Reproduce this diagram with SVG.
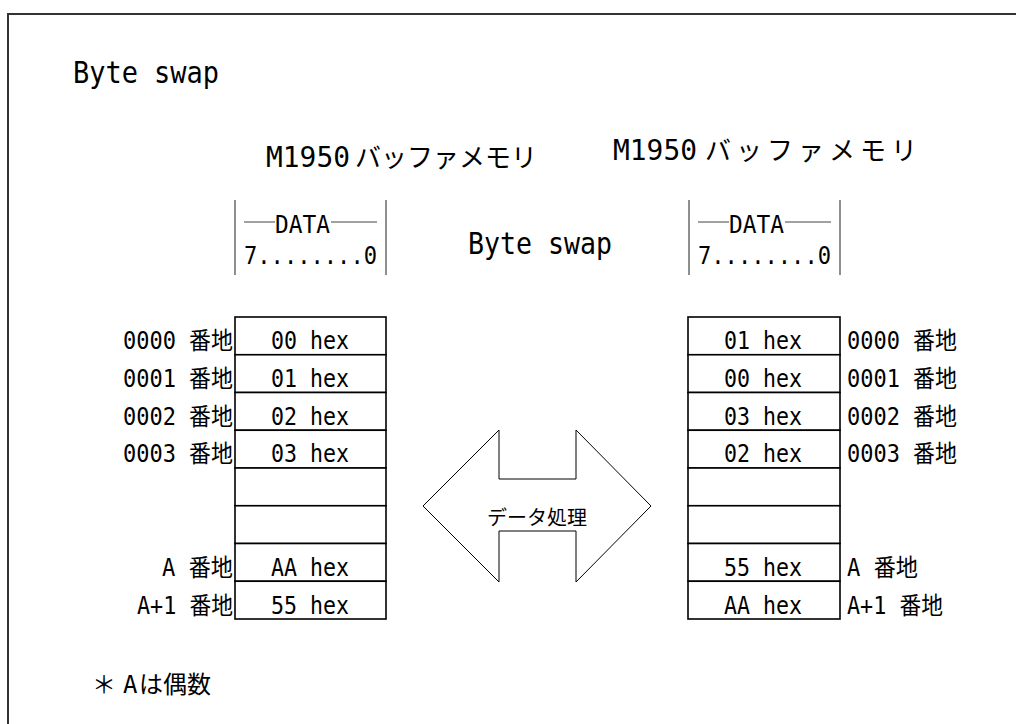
<svg xmlns="http://www.w3.org/2000/svg" width="1016" height="724" viewBox="0 0 1016 724">
<style>
.t{font-family:"DejaVu Sans Mono","Noto Sans CJK JP",monospace;fill:#000}
.cell{fill:#fff;stroke:#000;stroke-width:1.6}
.bar{stroke:#444;stroke-width:1.2;fill:none}
.c{text-anchor:middle}
.e{text-anchor:end}
.v{font-size:24px}
</style>
<rect width="1016" height="724" fill="#fff"/>
<path d="M8 724 V14 H1016" fill="none" stroke="#333" stroke-width="2"/>
<text class="t" x="73" y="83" font-size="30" textLength="146" lengthAdjust="spacingAndGlyphs">Byte swap</text>
<text class="t" x="266" y="167" font-size="28" textLength="84" lengthAdjust="spacingAndGlyphs">M1950</text>
<text class="t" x="355" y="167" font-size="26">バッファメモリ</text>
<text class="t" x="613" y="160" font-size="28" textLength="84" lengthAdjust="spacingAndGlyphs">M1950</text>
<text class="t" x="705" y="160" font-size="26" letter-spacing="5">バッファメモリ</text>
<text class="t" x="468" y="254" font-size="30" textLength="144" lengthAdjust="spacingAndGlyphs">Byte swap</text>
<g id="hdr-left">
<path class="bar" d="M235 200 V275 M386 200 V275 M244 222 H275 M331 222 H377"/>
<text class="t v" x="275" y="233" textLength="55" lengthAdjust="spacingAndGlyphs">DATA</text>
<text class="t v" x="244" y="264" textLength="133" lengthAdjust="spacingAndGlyphs">7........0</text>
</g>
<g id="hdr-right">
<path class="bar" d="M689 200 V275 M840 200 V275 M698 222 H729 M785 222 H831"/>
<text class="t v" x="729" y="233" textLength="55" lengthAdjust="spacingAndGlyphs">DATA</text>
<text class="t v" x="698" y="264" textLength="133" lengthAdjust="spacingAndGlyphs">7........0</text>
</g>
<g id="mem-left">
<rect class="cell" x="235" y="317" width="151" height="37.75"/>
<rect class="cell" x="235" y="354.75" width="151" height="37.75"/>
<rect class="cell" x="235" y="392.5" width="151" height="37.75"/>
<rect class="cell" x="235" y="430.25" width="151" height="37.75"/>
<rect class="cell" x="235" y="468" width="151" height="37.75"/>
<rect class="cell" x="235" y="505.75" width="151" height="37.75"/>
<rect class="cell" x="235" y="543.5" width="151" height="37.75"/>
<rect class="cell" x="235" y="581.25" width="151" height="37.75"/>
<text class="t v c" x="310" y="349" textLength="78" lengthAdjust="spacingAndGlyphs">00 hex</text>
<text class="t v c" x="310" y="387" textLength="78" lengthAdjust="spacingAndGlyphs">01 hex</text>
<text class="t v c" x="310" y="425" textLength="78" lengthAdjust="spacingAndGlyphs">02 hex</text>
<text class="t v c" x="310" y="462" textLength="78" lengthAdjust="spacingAndGlyphs">03 hex</text>
<text class="t v c" x="310" y="576" textLength="78" lengthAdjust="spacingAndGlyphs">AA hex</text>
<text class="t v c" x="310" y="614" textLength="78" lengthAdjust="spacingAndGlyphs">55 hex</text>
<text class="t v e" x="233" y="349" textLength="110" lengthAdjust="spacingAndGlyphs">0000 番地</text>
<text class="t v e" x="233" y="387" textLength="110" lengthAdjust="spacingAndGlyphs">0001 番地</text>
<text class="t v e" x="233" y="425" textLength="110" lengthAdjust="spacingAndGlyphs">0002 番地</text>
<text class="t v e" x="233" y="462" textLength="110" lengthAdjust="spacingAndGlyphs">0003 番地</text>
<text class="t v e" x="233" y="576" textLength="71" lengthAdjust="spacingAndGlyphs">A 番地</text>
<text class="t v e" x="233" y="614" textLength="96" lengthAdjust="spacingAndGlyphs">A+1 番地</text>
</g>
<g id="mem-right">
<rect class="cell" x="688" y="317" width="152" height="37.75"/>
<rect class="cell" x="688" y="354.75" width="152" height="37.75"/>
<rect class="cell" x="688" y="392.5" width="152" height="37.75"/>
<rect class="cell" x="688" y="430.25" width="152" height="37.75"/>
<rect class="cell" x="688" y="468" width="152" height="37.75"/>
<rect class="cell" x="688" y="505.75" width="152" height="37.75"/>
<rect class="cell" x="688" y="543.5" width="152" height="37.75"/>
<rect class="cell" x="688" y="581.25" width="152" height="37.75"/>
<text class="t v c" x="763" y="349" textLength="78" lengthAdjust="spacingAndGlyphs">01 hex</text>
<text class="t v c" x="763" y="387" textLength="78" lengthAdjust="spacingAndGlyphs">00 hex</text>
<text class="t v c" x="763" y="425" textLength="78" lengthAdjust="spacingAndGlyphs">03 hex</text>
<text class="t v c" x="763" y="462" textLength="78" lengthAdjust="spacingAndGlyphs">02 hex</text>
<text class="t v c" x="763" y="576" textLength="78" lengthAdjust="spacingAndGlyphs">55 hex</text>
<text class="t v c" x="763" y="614" textLength="78" lengthAdjust="spacingAndGlyphs">AA hex</text>
<text class="t v" x="847" y="349" textLength="110" lengthAdjust="spacingAndGlyphs">0000 番地</text>
<text class="t v" x="847" y="387" textLength="110" lengthAdjust="spacingAndGlyphs">0001 番地</text>
<text class="t v" x="847" y="425" textLength="110" lengthAdjust="spacingAndGlyphs">0002 番地</text>
<text class="t v" x="847" y="462" textLength="110" lengthAdjust="spacingAndGlyphs">0003 番地</text>
<text class="t v" x="847" y="576" textLength="71" lengthAdjust="spacingAndGlyphs">A 番地</text>
<text class="t v" x="847" y="614" textLength="96" lengthAdjust="spacingAndGlyphs">A+1 番地</text>
</g>
<g id="connectors">
<g id="swap-arrow">
<path d="M423 506 L499 430 V479 H576 V430 L651 506 L576 582 V531 H499 V582 Z" fill="#fff" stroke="#000" stroke-width="1"/>
<text class="t c" x="537" y="525" font-size="20">データ処理</text>
</g>
</g>
<text class="t" y="693" font-size="24"><tspan x="92">＊</tspan><tspan x="123">A</tspan><tspan x="139">は偶数</tspan></text>
</svg>
